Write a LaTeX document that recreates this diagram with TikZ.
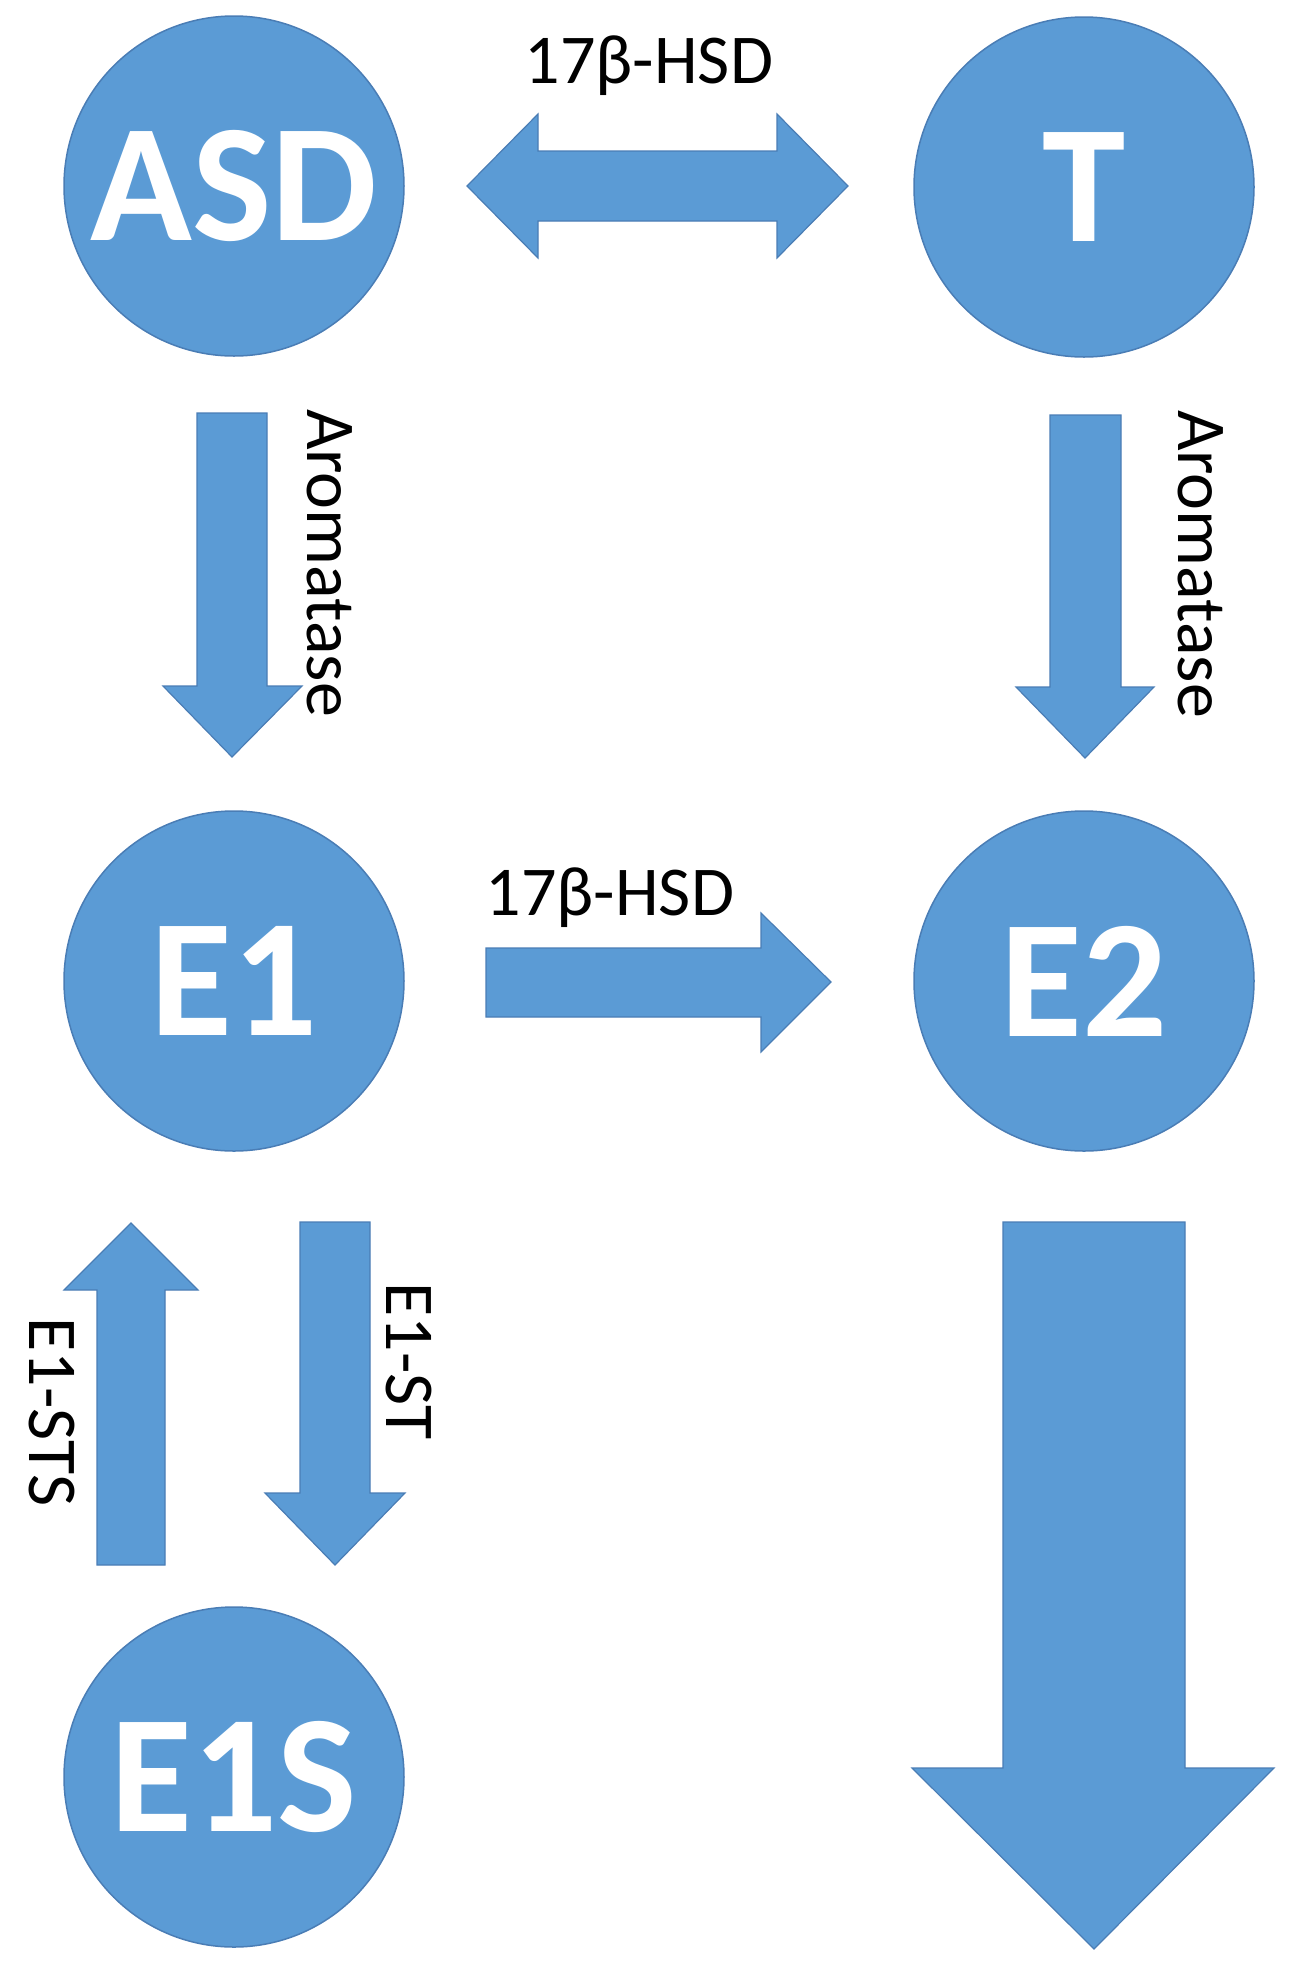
\documentclass[tikz,border=0pt]{standalone}
\usepackage{fontspec}
\setmainfont{Carlito}
\definecolor{blk}{HTML}{5B9BD5}
\definecolor{blkedge}{HTML}{4A7DB5}
\tikzset{
  mol/.style={circle, minimum size=340pt, inner sep=0pt, fill=blk, draw=blkedge, line width=1.5pt,
    text=white, font=\fontsize{168}{168}\selectfont\bfseries},
  blockarrow/.style={fill=blk, draw=blkedge, line width=1.2pt, line join=miter},
  enz/.style={inner sep=0pt, text=black, font=\fontsize{70}{70}\selectfont},
}
\begin{document}
\begin{tikzpicture}[x=1pt, y=-1pt]
\useasboundingbox (0,0) rectangle (1290,1966);
% molecules
\node[mol] (ASD) at (234,186) {ASD};
\node[mol] (T) at (1084,187) {T};
\node[mol] (E1) at (234,981) {E1};
\node[mol] (E2) at (1084,981) {E2};
\node[mol] (E1S) at (234,1777) {E1S};
% ASD <-> T
\draw[blockarrow] (467,186) -- (538,114) -- (538,151) -- (777,151) -- (777,114) -- (848,186)
  -- (777,258) -- (777,221) -- (538,221) -- (538,258) -- cycle;
\node[enz] (l1) at (649,66) {17β-HSD};
% ASD -> E1
\draw[blockarrow] (197,413) -- (267,413) -- (267,686) -- (302,686) -- (232,757) -- (163,686) -- (197,686) -- cycle;
\node[enz, rotate=-90] (l2) at (330,563) {Aromatase};
% T -> E2
\draw[blockarrow] (1050,415) -- (1121,415) -- (1121,687) -- (1154,687) -- (1085,758) -- (1016,687) -- (1050,687) -- cycle;
\node[enz, rotate=-90] (l3) at (1201,564) {Aromatase};
% E1 -> E2
\draw[blockarrow] (486,948) -- (761,948) -- (761,913) -- (831,982) -- (761,1052) -- (761,1017) -- (486,1017) -- cycle;
\node[enz] (l4) at (610,898) {17β-HSD};
% E1S -> E1
\draw[blockarrow] (131,1223) -- (198,1290) -- (165,1290) -- (165,1565) -- (97,1565) -- (97,1290) -- (64,1290) -- cycle;
\node[enz, rotate=-90] (l5) at (52,1412) {E1-STS};
% E1 -> E1S
\draw[blockarrow] (300,1222) -- (370,1222) -- (370,1493) -- (405,1493) -- (335,1565) -- (265,1493) -- (300,1493) -- cycle;
\node[enz, rotate=-90] (l6) at (409,1361) {E1-ST};
% big arrow
\draw[blockarrow] (1003,1222) -- (1185,1222) -- (1185,1768) -- (1274,1768) -- (1094,1949) -- (912,1768) -- (1003,1768) -- cycle;
\end{tikzpicture}
\end{document}
